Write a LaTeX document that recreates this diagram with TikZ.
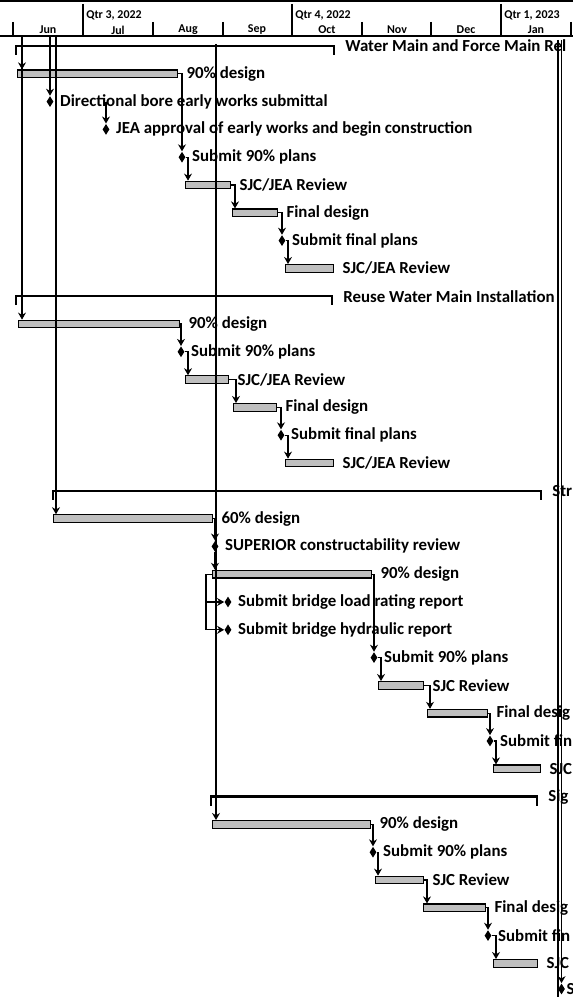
\documentclass[tikz,border=0pt]{standalone}
\usepackage{fontspec}
\setmainfont{Carlito}
\usepackage{tikz}
\usetikzlibrary{positioning,calc,shapes.geometric,arrows.meta}

\newcommand{\taskfont}{\fontsize{9.6}{11}\selectfont\bfseries}
\newcommand{\headfont}{\fontsize{6.8}{8}\selectfont\bfseries}

\tikzset{
  taskbar/.style={draw=black, line width=0.7pt, fill=black!25, inner sep=0pt, minimum height=0.15cm, anchor=west},
  mstone/.style={diamond, fill=black, inner sep=0pt, minimum width=0.14cm, minimum height=0.22cm},
  sumbar/.style={line width=1.4pt},
  link/.style={line width=0.6pt, -{Stealth[length=4pt,width=4.5pt]}},
  lbl/.style={font=\taskfont, inner sep=0pt},
  hlbl/.style={font=\headfont, inner sep=0pt}
}

\begin{document}
\begin{tikzpicture}[x=0.02cm, y=-0.02cm]
    \useasboundingbox (0,0) rectangle (573,997);
    \clip (0,0) rectangle (573,997);
    \fill[white] (0,0) rectangle (573,997);

    % Timescale header
    \draw[line width=0.8pt] (0,1) -- (573,1);
    \draw[line width=0.6pt] (0,36) -- (573,36);
    \foreach \x in {83,292,501} \draw[line width=0.6pt] (\x,4) -- (\x,36);
    \foreach \x in {13,153,223,362,431,571} \draw[line width=0.6pt] (\x,22) -- (\x,36);
    \node[hlbl, anchor=west] (q3) at (86,15) {Qtr 3, 2022};
    \node[hlbl, anchor=west] (q4) at (295,15) {Qtr 4, 2022};
    \node[hlbl, anchor=west] (q1) at (504,15) {Qtr 1, 2023};
    \foreach \m/\x in {Jun/48,Jul/118,Aug/188,Sep/257,Oct/327,Nov/397,Dec/466,Jan/536}
        \node[hlbl] (\m) at (\x,30) {\m};

    % Summary bars
    \foreach \n/\xa/\xb/\r/\t in {s1/16/334/1/Water Main and Force Main Rel,
                                 s10/16/332/10/Reuse Water Main Installation,
                                 s17/53/541/17/Str,
                                 s28/211/537/28/Sig} {
        \coordinate (\n-w) at (\xa,{46+27.8*(\r-1)});
        \coordinate (\n-e) at (\xb,{46+27.8*(\r-1)});
        \draw[sumbar] ($(\n-w)+(0,9)$) -- (\n-w) -- (\n-e) -- ++(0,9);
        \node[lbl, right=0.22cm of \n-e] (\n-t) {\t};
    }

    % Task bars
    \foreach \n/\xa/\xb/\r/\t in {b2/17/177/2/90\% design,
                                 b6/185/230/6/{SJC/JEA Review},
                                 b7/232/277/7/Final design,
                                 b9/285/333/9/{SJC/JEA Review},
                                 b11/18/179/11/90\% design,
                                 b13/185/228/13/{SJC/JEA Review},
                                 b14/233/276/14/Final design,
                                 b16/285/333/16/{SJC/JEA Review},
                                 b18/53/212/18/60\% design,
                                 b20/212/371/20/90\% design,
                                 b24/378/423/24/SJC Review,
                                 b25/427/487/25/Final desig,
                                 b27/493/540/27/SJC,
                                 b29/212/370/29/90\% design,
                                 b31/375/423/31/SJC Review,
                                 b32/423/485/32/Final desig,
                                 b34/493/537/34/SJC} {
        \node[taskbar, minimum width={(\xb-\xa)*0.02cm}] (\n) at (\xa,{46+27.8*(\r-1)}) {};
        \node[lbl, right=0.16cm of \n] (\n-t) {\t};
    }

    % Milestones
    \foreach \n/\x/\r/\t in {m3/50/3/Directional bore early works submittal,
                            m4/106/4/JEA approval of early works and begin construction,
                            m5/182/5/Submit 90\% plans,
                            m8/282/8/Submit final plans,
                            m12/181/12/Submit 90\% plans,
                            m15/281/15/Submit final plans,
                            m19/215/19/SUPERIOR constructability review,
                            m21/228/21/Submit bridge load rating report,
                            m22/228/22/Submit bridge hydraulic report,
                            m23/374/23/Submit 90\% plans,
                            m26/490/26/Submit fin,
                            m30/373/30/Submit 90\% plans,
                            m33/488/33/Submit fin} {
        \node[mstone] (\n) at (\x,{46+27.8*(\r-1)}) {};
        \node[lbl, right=0.12cm of \n] (\n-t) {\t};
    }
    \node[mstone] (m35) at (561.5,989) {};
    \node[lbl, right=0.02cm of m35] (m35-t) {S};

    % Links coming from tasks above the page
    \coordinate (inA) at (22,37);
    \coordinate (inB) at (50,37);
    \coordinate (inC) at (56,37);
    \coordinate (inD) at (216,44);
    \coordinate (inE) at (558,40);
    \coordinate (inF) at (561.5,40);
    \coordinate (outE) at (558,997);
    \draw[link] (inA) -- (inA |- b2.north);
    \draw[link] (inA) -- (inA |- b11.north);
    \draw[link] (inB) -- (m3.north);
    \draw[link] (inC) -- (inC |- b18.north);
    \draw[link] (inD) -- (inD |- b29.north);
    \draw[line width=0.6pt] (inE) -- (outE);
    \draw[link] (inF) -- (m35.north);

    % Water main links
    \draw[link] (m3.east -| m4.north) -- (m4.north);
    \draw[link] (b2.east) -| (m5.north);
    \draw[link] (m5.east) -| ($(b6.north west)+(3,0)$);
    \draw[link] (b6.east) -| ($(b7.north west)+(3,0)$);
    \draw[link] (b7.east) -| (m8.north);
    \draw[link] (m8.east) -| ($(b9.north west)+(3,0)$);

    % Reuse water main links
    \draw[link] (b11.east) -| (m12.north);
    \draw[link] (m12.east) -| ($(b13.north west)+(3,0)$);
    \draw[link] (b13.east) -| ($(b14.north west)+(3,0)$);
    \draw[link] (b14.east) -| (m15.north);
    \draw[link] (m15.east) -| ($(b16.north west)+(3,0)$);

    % Structure links
    \draw[link] (b18.east) -| (m19.north);
    \draw[link] (m19.south) -- (m19.south |- b20.north);
    \draw[link] (b20.west) -- ++(-6,0) |- (m21.west);
    \draw[link] (b20.west) -- ++(-6,0) |- (m22.west);
    \draw[link] (b20.east) -| (m23.north);
    \draw[link] (m23.east) -| ($(b24.north west)+(3,0)$);
    \draw[link] (b24.east) -| ($(b25.north west)+(3,0)$);
    \draw[link] (b25.east) -| (m26.north);
    \draw[link] (m26.east) -| ($(b27.north west)+(3,0)$);

    % Signal links
    \draw[link] (b29.east) -| (m30.north);
    \draw[link] (m30.east) -| ($(b31.north west)+(3,0)$);
    \draw[link] (b31.east) -| ($(b32.north west)+(4,0)$);
    \draw[link] (b32.east) -| (m33.north);
    \draw[link] (m33.east) -| ($(b34.north west)+(3,0)$);
\end{tikzpicture}
\end{document}
